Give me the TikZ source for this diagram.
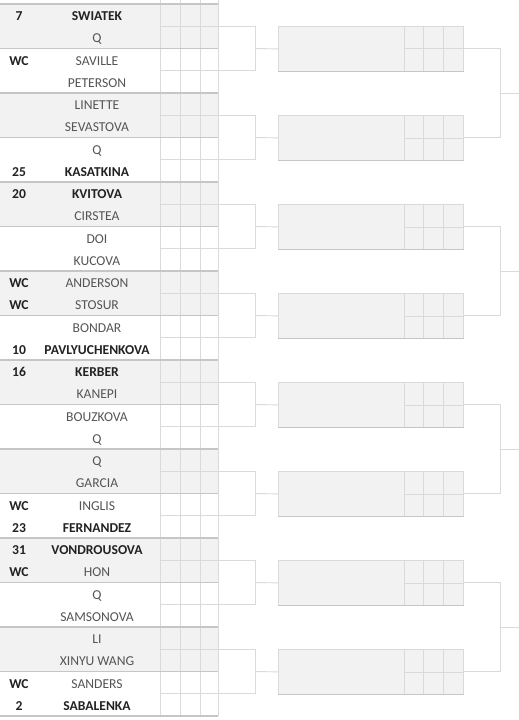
\documentclass[tikz,border=0pt]{standalone}
\usepackage{fontspec}
\setmainfont{Carlito}
\definecolor{cellgray}{HTML}{F2F2F2}
\definecolor{gridl}{HTML}{DADADA}
\definecolor{sepl}{HTML}{C6C6C6}
\definecolor{boldt}{HTML}{222222}
\definecolor{regt}{HTML}{555555}
\begin{document}
\begin{tikzpicture}[x=1bp,y=-1bp,
  gridline/.style={draw=gridl, line width=0.8bp},
  sepline/.style={draw=sepl, line width=1.1bp},
  conn/.style={draw=gridl, line width=0.9bp},
  nm/.style={font=\fontsize{13.6bp}{16bp}\selectfont, text=regt, inner sep=0pt, anchor=base},
  nmb/.style={font=\fontsize{13.6bp}{16bp}\selectfont\bfseries, text=boldt, inner sep=0pt, anchor=base},
  rbox/.style={draw=gridl, fill=cellgray, line width=0.8bp, minimum width=185bp, minimum height=44.5bp, inner sep=0pt, anchor=north west}]
\useasboundingbox (0,0) rectangle (519,720);
\fill[white] (0,0) rectangle (519,720);
% shaded pairs
\foreach \k in {0,2,...,14}{
  \fill[cellgray] (0,{4+22.25*2*\k}) rectangle (218,{4+22.25*(2*\k+2)});
}
% vertical grid lines of score columns
\foreach \x in {160,180,200,218}{
  \draw[gridline] (\x,0) -- (\x,716);
}
% first-round bracket lines (odd boundaries) and connectors
\foreach \k in {0,...,7}{
  \coordinate (a\k) at (160,{4+22.25*(4*\k+1)});
  \coordinate (c\k) at (160,{4+22.25*(4*\k+3)});
  \coordinate (m\k) at (255,{4+22.25*(4*\k+2)});
  \node[rbox] (b\k) at (278,{4+22.25*(4*\k+1)}) {};
  \draw[conn] (a\k) -- (a\k -| m\k) -- (c\k -| m\k) -- (c\k);
  \draw[conn] (m\k) -- (b\k.west);
  % box inner lines
  \draw[gridline] (b\k.north west) ++(126,0) -- ++(0,44.5);
  \draw[gridline] (b\k.north west) ++(145,0) -- ++(0,44.5);
  \draw[gridline] (b\k.north west) ++(165,0) -- ++(0,44.5);
  \draw[gridline] (b\k.west) ++(126,0) -- (b\k.east);
  \draw[sepline] (b\k.south west) -- (b\k.south east);
}
% second-round connectors
\foreach \j/\p/\q in {0/0/1,1/2/3,2/4/5,3/6/7}{
  \coordinate (v\j) at (500,{4+22.25*(8*\j+4)});
  \coordinate (e\j) at (519,{4+22.25*(8*\j+4)});
  \draw[conn] (b\p.east) -- (b\p.east -| v\j) -- (b\q.east -| v\j) -- (b\q.east);
  \draw[conn] (v\j) -- (e\j);
}
% separators (even boundaries)
\foreach \i in {0,2,...,32}{
  \draw[sepline] (0,{4+22.25*\i}) -- (218,{4+22.25*\i});
}
% seeds
\node[nmb] (s1) at (19,20.7) {7};
\node[nmb] (s3) at (19,{20.7+22.25*2}) {WC};
\node[nmb] (s8) at (19,{20.7+22.25*7}) {25};
\node[nmb] (s9) at (19,{20.7+22.25*8}) {20};
\node[nmb] (s13) at (19,{20.7+22.25*12}) {WC};
\node[nmb] (s14) at (19,{20.7+22.25*13}) {WC};
\node[nmb] (s16) at (19,{20.7+22.25*15}) {10};
\node[nmb] (s17) at (19,{20.7+22.25*16}) {16};
\node[nmb] (s23) at (19,{20.7+22.25*22}) {WC};
\node[nmb] (s24) at (19,{20.7+22.25*23}) {23};
\node[nmb] (s25) at (19,{20.7+22.25*24}) {31};
\node[nmb] (s26) at (19,{20.7+22.25*25}) {WC};
\node[nmb] (s31) at (19,{20.7+22.25*30}) {WC};
\node[nmb] (s32) at (19,{20.7+22.25*31}) {2};
% names
\node[nmb] (p1) at (97,{20.7+22.25*0}) {SWIATEK};
\node[nm] (p2) at (97,{20.7+22.25*1}) {Q};
\node[nm] (p3) at (97,{20.7+22.25*2}) {SAVILLE};
\node[nm] (p4) at (97,{20.7+22.25*3}) {PETERSON};
\node[nm] (p5) at (97,{20.7+22.25*4}) {LINETTE};
\node[nm] (p6) at (97,{20.7+22.25*5}) {SEVASTOVA};
\node[nm] (p7) at (97,{20.7+22.25*6}) {Q};
\node[nmb] (p8) at (97,{20.7+22.25*7}) {KASATKINA};
\node[nmb] (p9) at (97,{20.7+22.25*8}) {KVITOVA};
\node[nm] (p10) at (97,{20.7+22.25*9}) {CIRSTEA};
\node[nm] (p11) at (97,{20.7+22.25*10}) {DOI};
\node[nm] (p12) at (97,{20.7+22.25*11}) {KUCOVA};
\node[nm] (p13) at (97,{20.7+22.25*12}) {ANDERSON};
\node[nm] (p14) at (97,{20.7+22.25*13}) {STOSUR};
\node[nm] (p15) at (97,{20.7+22.25*14}) {BONDAR};
\node[nmb] (p16) at (97,{20.7+22.25*15}) {PAVLYUCHENKOVA};
\node[nmb] (p17) at (97,{20.7+22.25*16}) {KERBER};
\node[nm] (p18) at (97,{20.7+22.25*17}) {KANEPI};
\node[nm] (p19) at (97,{20.7+22.25*18}) {BOUZKOVA};
\node[nm] (p20) at (97,{20.7+22.25*19}) {Q};
\node[nm] (p21) at (97,{20.7+22.25*20}) {Q};
\node[nm] (p22) at (97,{20.7+22.25*21}) {GARCIA};
\node[nm] (p23) at (97,{20.7+22.25*22}) {INGLIS};
\node[nmb] (p24) at (97,{20.7+22.25*23}) {FERNANDEZ};
\node[nmb] (p25) at (97,{20.7+22.25*24}) {VONDROUSOVA};
\node[nm] (p26) at (97,{20.7+22.25*25}) {HON};
\node[nm] (p27) at (97,{20.7+22.25*26}) {Q};
\node[nm] (p28) at (97,{20.7+22.25*27}) {SAMSONOVA};
\node[nm] (p29) at (97,{20.7+22.25*28}) {LI};
\node[nm] (p30) at (97,{20.7+22.25*29}) {XINYU WANG};
\node[nm] (p31) at (97,{20.7+22.25*30}) {SANDERS};
\node[nmb] (p32) at (97,{20.7+22.25*31}) {SABALENKA};
\end{tikzpicture}
\end{document}
